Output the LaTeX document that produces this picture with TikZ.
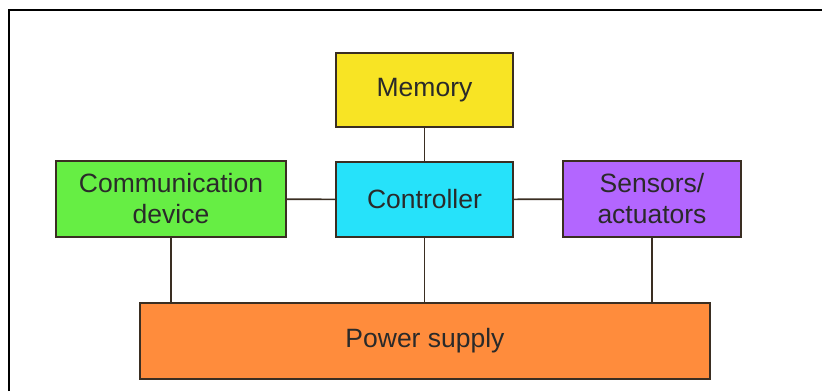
\documentclass[tikz,border=0pt]{standalone}
\usepackage{fontspec}
\setmainfont{Liberation Sans}
\definecolor{memc}{HTML}{F8E424}
\definecolor{ctrlc}{HTML}{26E2FA}
\definecolor{commc}{HTML}{66EE44}
\definecolor{sensc}{HTML}{B366FF}
\definecolor{powc}{HTML}{FF8C3C}
\definecolor{edgec}{HTML}{3A2E22}
\definecolor{txtc}{HTML}{2A2A2A}
\begin{document}
\begin{tikzpicture}[x=1pt,y=-1pt,
  box/.style={draw=edgec, line width=1.5pt, rectangle, align=center, inner sep=0pt,
    font=\fontsize{26.5}{31}\selectfont, text=txtc},
  link/.style={draw=edgec, line width=1.6pt}]
\useasboundingbox (0,0) rectangle (822,391);
\fill[white] (0,0) rectangle (822,391);
\draw[line width=2.2pt, black] (9,391) -- (9,10) -- (822,10);
\node[box, fill=memc, minimum width=177pt, minimum height=74pt] (mem) at (424.5,90) {Memory};
\node[box, fill=ctrlc, minimum width=177pt, minimum height=75pt] (ctrl) at (424.5,199.5) {Controller};
\node[box, fill=commc, minimum width=230pt, minimum height=76pt] (comm) at (171,199) {Communication\\device};
\node[box, fill=sensc, minimum width=178pt, minimum height=76pt] (sens) at (652,199) {Sensors/\\actuators};
\node[box, fill=powc, minimum width=570pt, minimum height=76pt] (pow) at (425,341) {Power supply};
\draw[link] (mem) -- (ctrl);
\draw[link] (comm) -- (ctrl);
\draw[link] (ctrl) -- (sens);
\draw[link] (comm.south) -- (comm.south |- pow.north);
\draw[link] (ctrl.south) -- (ctrl.south |- pow.north);
\draw[link] (sens.south) -- (sens.south |- pow.north);
\end{tikzpicture}
\end{document}
